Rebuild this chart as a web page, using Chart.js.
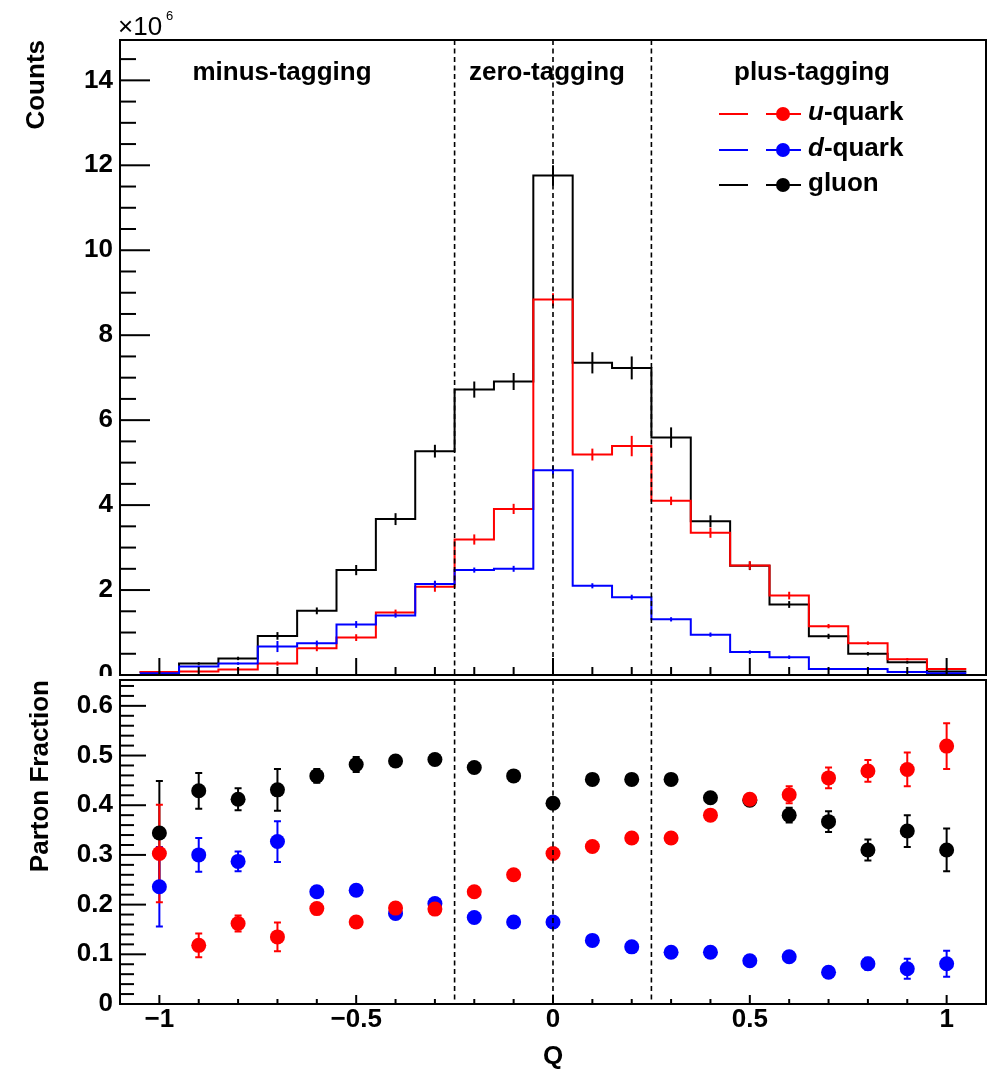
<!DOCTYPE html>
<html><head><meta charset="utf-8">
<script src="https://cdn.jsdelivr.net/npm/chart.js@4.4.1/dist/chart.umd.min.js"></script>
<style>
html,body{margin:0;padding:0;background:#fff;overflow:hidden;}
#wrap{position:relative;width:997px;height:1069px;background:#fff;font-family:"Liberation Sans",Arial,sans-serif;color:#000;}
#topBox{position:absolute;left:0;top:0;width:997px;height:676px;overflow:hidden;}
#cTop{position:absolute;left:0;top:0;}
#cBot{position:absolute;left:0;top:660px;}
.t{position:absolute;white-space:nowrap;font-weight:bold;font-size:26px;line-height:26px;}
.c{transform:translateX(-50%);}
.ln{position:absolute;height:2px;}
.dot{position:absolute;width:14px;height:14px;border-radius:50%;}
</style></head>
<body>
<div id="wrap">
  <div id="topBox"><canvas id="cTop" width="997" height="700"></canvas></div>
  <canvas id="cBot" width="997" height="409"></canvas>

  <div class="t" style="left:118px;top:13px;font-weight:normal;">×10</div>
  <div class="t" style="left:166px;top:9px;font-weight:normal;font-size:13px;line-height:13px;">6</div>

  <div class="t c" style="left:282px;top:58px;">minus-tagging</div>
  <div class="t c" style="left:547px;top:58px;">zero-tagging</div>
  <div class="t c" style="left:812px;top:58px;">plus-tagging</div>

  <div class="ln" style="left:719px;top:113px;width:29px;background:#ff0000"></div>
  <div class="ln" style="left:766px;top:113px;width:35px;background:#ff0000"></div>
  <div class="dot" style="left:776px;top:107px;background:#ff0000"></div>
  <div class="t" style="left:808px;top:98px;"><i>u</i>-quark</div>

  <div class="ln" style="left:719px;top:148.5px;width:29px;background:#0000ff"></div>
  <div class="ln" style="left:766px;top:148.5px;width:35px;background:#0000ff"></div>
  <div class="dot" style="left:776px;top:142.5px;background:#0000ff"></div>
  <div class="t" style="left:808px;top:133.5px;"><i>d</i>-quark</div>

  <div class="ln" style="left:719px;top:184px;width:29px;background:#000"></div>
  <div class="ln" style="left:766px;top:184px;width:35px;background:#000"></div>
  <div class="dot" style="left:776px;top:178px;background:#000"></div>
  <div class="t" style="left:808px;top:169px;">gluon</div>
</div>
<script>
// ---------------- data ----------------
const Q = [-1,-0.9,-0.8,-0.7,-0.6,-0.5,-0.4,-0.3,-0.2,-0.1,0,0.1,0.2,0.3,0.4,0.5,0.6,0.7,0.8,0.9,1];
// counts (x10^6)
const uCounts = [0.07,0.08,0.13,0.27,0.63,0.88,1.47,2.08,3.19,3.91,8.84,5.19,5.39,4.10,3.35,2.58,1.87,1.15,0.75,0.37,0.14];
const dCounts = [0.04,0.20,0.27,0.67,0.75,1.19,1.40,2.14,2.47,2.50,4.82,2.10,1.83,1.31,0.95,0.54,0.42,0.14,0.14,0.07,0.04];
const gCounts = [0.07,0.27,0.39,0.92,1.51,2.47,3.67,5.27,6.72,6.91,11.76,7.35,7.23,5.59,3.62,2.57,1.66,0.91,0.50,0.30,0.08];
const uCountErr = [0.02,0.02,0.03,0.05,0.07,0.08,0.07,0.12,0.12,0.12,0.15,0.14,0.24,0.10,0.12,0.10,0.09,0.05,0.04,0.03,0.02];
const dCountErr = [0.02,0.02,0.03,0.13,0.06,0.08,0.05,0.08,0.06,0.07,0.10,0.06,0.06,0.05,0.05,0.04,0.04,0.02,0.02,0.02,0.02];
const gCountErr = [0.02,0.03,0.04,0.09,0.08,0.12,0.14,0.15,0.19,0.20,0.24,0.25,0.27,0.24,0.14,0.10,0.08,0.06,0.04,0.03,0.02];
// parton fractions
const uFrac = [0.303,0.118,0.162,0.135,0.192,0.165,0.193,0.191,0.226,0.260,0.303,0.317,0.334,0.334,0.380,0.412,0.421,0.455,0.469,0.472,0.519];
const uFracErr = [0.098,0.024,0.016,0.029,0.010,0.010,0.010,0.010,0.008,0.008,0.005,0.006,0.008,0.008,0.010,0.010,0.017,0.021,0.022,0.034,0.046];
const dFrac = [0.236,0.300,0.287,0.327,0.226,0.229,0.182,0.202,0.174,0.165,0.165,0.128,0.115,0.104,0.104,0.087,0.095,0.064,0.081,0.071,0.081];
const dFracErr = [0.080,0.034,0.020,0.041,0.010,0.010,0.010,0.010,0.006,0.006,0.004,0.005,0.006,0.006,0.008,0.008,0.010,0.010,0.012,0.020,0.026];
const gFrac = [0.344,0.429,0.412,0.431,0.459,0.482,0.489,0.492,0.476,0.459,0.404,0.452,0.452,0.452,0.415,0.410,0.380,0.367,0.310,0.348,0.310];
const gFracErr = [0.105,0.036,0.022,0.042,0.014,0.015,0.010,0.010,0.008,0.008,0.005,0.006,0.006,0.006,0.010,0.010,0.015,0.021,0.021,0.032,0.043];
// tick labels
const countTicks = [0,2,4,6,8,10,12,14];
const fracTicks = [0,0.1,0.2,0.3,0.4,0.5,0.6];
const qTicks = [-1,-0.5,0,0.5,1];
const qTickLabels = ['\u22121','\u22120.5','0','0.5','1'];
const tagBoundaries = [-0.25,0,0.25];

const RED='#ff0000', BLUE='#0000ff', BLACK='#000000';
const FONT = 'Liberation Sans';
Chart.defaults.font.family = FONT;
Chart.defaults.color = '#000';

const r2 = v => Math.round(v*1000)/1000;
function range(a,b,s){const o=[];for(let v=a;v<=b+1e-9;v+=s)o.push(r2(v));return o;}
const isIn = (v, arr) => arr.some(m => Math.abs(m - v) < 1e-6);

function stepData(vals){
  const d = Q.map((q,i)=>({x:r2(q-0.05), y:vals[i]}));
  d.push({x:r2(Q[Q.length-1]+0.05), y:vals[vals.length-1]});
  return d;
}

function drawErrors(chart){
  const {ctx, scales:{x,y}} = chart;
  const dss = chart.data.datasets.slice().reverse();
  dss.forEach(ds=>{
    const eb = ds.errorBars; if(!eb) return;
    ctx.save();
    ctx.strokeStyle = ds.errColor; ctx.lineWidth = 2;
    eb.x.forEach((xv,i)=>{
      const px = x.getPixelForValue(xv);
      const p1 = y.getPixelForValue(Math.max(eb.y[i]-eb.e[i], y.min));
      const p2 = y.getPixelForValue(eb.y[i]+eb.e[i]);
      ctx.beginPath();
      ctx.moveTo(px,p1); ctx.lineTo(px,p2);
      if(eb.cap){
        ctx.moveTo(px-eb.cap,p1); ctx.lineTo(px+eb.cap,p1);
        ctx.moveTo(px-eb.cap,p2); ctx.lineTo(px+eb.cap,p2);
      }
      ctx.stroke();
    });
    ctx.restore();
  });
}

const rootDeco = {
  id:'rootDeco',
  beforeDatasetsDraw(chart,args,o){ if(o.errUnder) drawErrors(chart); },
  afterDatasetsDraw(chart,args,o){
    if(!o.errUnder) drawErrors(chart);
    const {ctx, chartArea:a, scales:{x,y}} = chart;
    ctx.save();
    // tagging boundaries
    ctx.strokeStyle='#000'; ctx.lineWidth=1.6; ctx.setLineDash([5,3.5]);
    o.dashed.forEach(v=>{
      const px = x.getPixelForValue(v);
      ctx.beginPath(); ctx.moveTo(px,a.top); ctx.lineTo(px,a.bottom); ctx.stroke();
    });
    ctx.setLineDash([]);
    // inward ticks
    ctx.lineWidth=2;
    x.ticks.forEach(t=>{
      const px = x.getPixelForValue(t.value);
      if(px<=a.left+1||px>=a.right-1) return;
      const L = isIn(t.value,o.xMajors)?o.xLen[0]:o.xLen[1];
      ctx.beginPath(); ctx.moveTo(px,a.bottom); ctx.lineTo(px,a.bottom-L); ctx.stroke();
    });
    y.ticks.forEach(t=>{
      const py = y.getPixelForValue(t.value);
      if(py<=a.top+1||py>=a.bottom-1) return;
      const L = isIn(t.value,o.yMajors)?o.yLen[0]:o.yLen[1];
      ctx.beginPath(); ctx.moveTo(a.left,py); ctx.lineTo(a.left+L,py); ctx.stroke();
    });
    // frame
    ctx.strokeRect(a.left,a.top,a.right-a.left,a.bottom-a.top);
    ctx.restore();
  }
};

const tickFont = {family:FONT, weight:'bold', size:26, lineHeight:1};

// ---------------- top panel ----------------
new Chart(document.getElementById('cTop'), {
  type:'line',
  data:{ datasets:[
    {label:'d-quark', data:stepData(dCounts), borderColor:BLUE, borderWidth:2, stepped:true, pointRadius:0, fill:false,
     errColor:BLUE, errorBars:{x:Q,y:dCounts,e:dCountErr,cap:0}},
    {label:'u-quark', data:stepData(uCounts), borderColor:RED, borderWidth:2, stepped:true, pointRadius:0, fill:false,
     errColor:RED, errorBars:{x:Q,y:uCounts,e:uCountErr,cap:0}},
    {label:'gluon', data:stepData(gCounts), borderColor:BLACK, borderWidth:2, stepped:true, pointRadius:0, fill:false,
     errColor:BLACK, errorBars:{x:Q,y:gCounts,e:gCountErr,cap:0}}
  ]},
  options:{
    responsive:false, animation:false, events:[],
    layout:{padding:{top:40,right:11,bottom:1,left:0}},
    plugins:{legend:{display:false}, tooltip:{enabled:false},
      rootDeco:{dashed:tagBoundaries, xMajors:qTicks, yMajors:countTicks, xLen:[17,8], yLen:[30,16], errUnder:false}},
    scales:{
      x:{type:'linear', min:-1.1, max:1.1,
         grid:{display:false, drawTicks:false}, border:{display:false},
         ticks:{display:false},
         afterBuildTicks:s=>{s.ticks = range(-1.1,1.1,0.1).map(v=>({value:v}));},
         afterFit:s=>{s.height=24;}},
      y:{type:'linear', min:0, max:14.95,
         grid:{display:false, drawTicks:false}, border:{display:false},
         ticks:{font:tickFont, padding:7, autoSkip:false,
           callback:(v)=> isIn(v,countTicks)? String(Math.round(v)) : ''},
         afterBuildTicks:s=>{s.ticks = range(0,14.5,0.5).map(v=>({value:v}));},
         title:{display:true, text:'Counts', align:'end', font:{family:FONT,weight:'bold',size:26,lineHeight:1.2}, padding:{top:21.4,bottom:0}},
         afterFit:s=>{s.width=120;}}
    }
  },
  plugins:[rootDeco]
});

// ---------------- bottom panel ----------------
const pts = arr => Q.map((q,i)=>({x:q,y:arr[i]}));
new Chart(document.getElementById('cBot'), {
  type:'scatter',
  data:{ datasets:[
    {label:'u-quark', data:pts(uFrac), backgroundColor:RED, borderWidth:0, pointRadius:7.5, pointStyle:'circle',
     errColor:RED, errorBars:{x:Q,y:uFrac,e:uFracErr,cap:3.5}},
    {label:'d-quark', data:pts(dFrac), backgroundColor:BLUE, borderWidth:0, pointRadius:7.5, pointStyle:'circle',
     errColor:BLUE, errorBars:{x:Q,y:dFrac,e:dFracErr,cap:3.5}},
    {label:'gluon', data:pts(gFrac), backgroundColor:BLACK, borderWidth:0, pointRadius:7.5, pointStyle:'circle',
     errColor:BLACK, errorBars:{x:Q,y:gFrac,e:gFracErr,cap:3.5}}
  ]},
  options:{
    responsive:false, animation:false, events:[],
    layout:{padding:{top:15,right:11,bottom:0,left:0}},
    plugins:{legend:{display:false}, tooltip:{enabled:false},
      rootDeco:{dashed:tagBoundaries, xMajors:qTicks, yMajors:fracTicks, xLen:[9,5], yLen:[26,14], errUnder:true}},
    scales:{
      x:{type:'linear', min:-1.1, max:1.1,
         grid:{display:false, drawTicks:false}, border:{display:false},
         ticks:{font:{family:FONT,weight:'bold',size:26,lineHeight:1.2}, padding:0, autoSkip:false, maxRotation:0, minRotation:0,
           callback:(v)=>{const k=qTicks.findIndex(m=>Math.abs(m-v)<1e-6); return k>=0?qTickLabels[k]:'';}},
         afterBuildTicks:s=>{s.ticks = range(-1.0,1.0,0.1).map(v=>({value:v}));},
         title:{display:true, text:'Q', align:'center', font:{family:FONT,weight:'bold',size:26,lineHeight:0.9}, padding:{top:0,bottom:0}},
         afterFit:s=>{s.height=65;}},
      y:{type:'linear', min:0, max:0.652,
         grid:{display:false, drawTicks:false}, border:{display:false},
         ticks:{font:tickFont, padding:7, autoSkip:false,
           callback:(v)=> isIn(v,fracTicks)? String(Math.round(v*10)/10) : ''},
         afterBuildTicks:s=>{s.ticks = range(0,0.64,0.02).map(v=>({value:v}));},
         title:{display:true, text:'Parton Fraction', align:'end', font:{family:FONT,weight:'bold',size:26,lineHeight:1.2}, padding:{top:25.4,bottom:0}},
         afterFit:s=>{s.width=120;}}
    }
  },
  plugins:[rootDeco]
});
</script>
</body></html>
